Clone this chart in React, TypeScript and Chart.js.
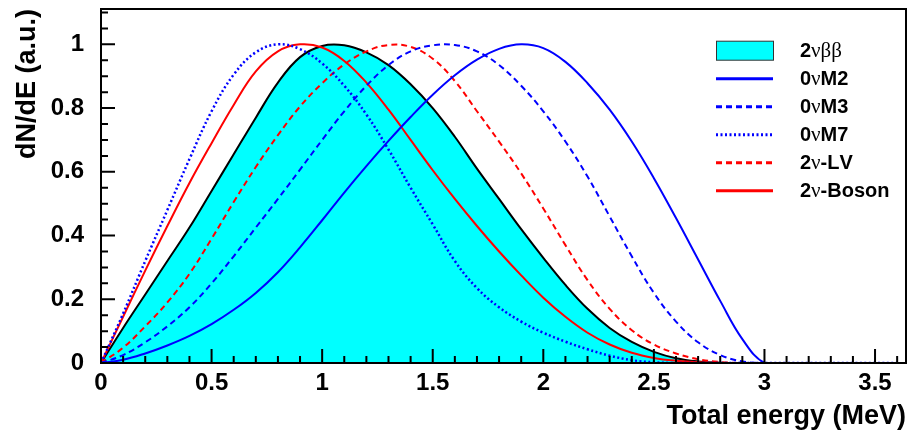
import React, { useEffect, useRef } from "react";
import { Chart, registerables } from "chart.js";

Chart.register(...registerables);

// Total energy (MeV)
const energies = [
  0, 0.1, 0.2, 0.3, 0.4, 0.5, 0.6, 0.7, 0.8, 0.9,
  1.0, 1.1, 1.2, 1.3, 1.4, 1.5, 1.6, 1.7, 1.8, 1.9,
  2.0, 2.1, 2.2, 2.3, 2.4, 2.5, 2.6, 2.7, 2.8, 2.9,
  3.0, 3.1, 3.2, 3.3, 3.4, 3.5, 3.6,
];

const spec2nbb = [
  0, 0.11, 0.215, 0.32, 0.425, 0.54, 0.655, 0.77, 0.88, 0.96,
  0.995, 0.997, 0.975, 0.935, 0.875, 0.80, 0.71, 0.61, 0.515, 0.42,
  0.33, 0.245, 0.17, 0.11, 0.066, 0.035, 0.015, 0.005, 0.001, 0,
  0, 0, 0, 0, 0, 0, 0,
];

const spec0nM2 = [
  0, 0.01, 0.03, 0.055, 0.085, 0.122, 0.167, 0.22, 0.285, 0.363,
  0.448, 0.535, 0.618, 0.697, 0.772, 0.842, 0.903, 0.952, 0.986, 1.0,
  0.988, 0.945, 0.878, 0.795, 0.695, 0.58, 0.455, 0.325, 0.195, 0.075,
  0, 0, 0, 0, 0, 0, 0,
];

const spec0nM3 = [
  0, 0.025, 0.065, 0.115, 0.175, 0.25, 0.335, 0.425, 0.515, 0.607,
  0.70, 0.79, 0.87, 0.935, 0.978, 0.997, 0.998, 0.978, 0.935, 0.87,
  0.79, 0.695, 0.585, 0.46, 0.335, 0.22, 0.13, 0.065, 0.025, 0.005,
  0, 0, 0, 0, 0, 0, 0,
];

const spec0nM7 = [
  0, 0.155, 0.32, 0.48, 0.64, 0.79, 0.905, 0.975, 1.0, 0.985,
  0.94, 0.87, 0.78, 0.67, 0.55, 0.435, 0.32, 0.235, 0.175, 0.13,
  0.095, 0.067, 0.043, 0.023, 0.009, 0.002, 0, 0, 0, 0,
  0, 0, 0, 0, 0, 0, 0,
];

const spec2nLV = [
  0, 0.048, 0.115, 0.19, 0.28, 0.39, 0.505, 0.615, 0.715, 0.805,
  0.878, 0.937, 0.978, 0.998, 0.992, 0.955, 0.885, 0.79, 0.695, 0.595,
  0.485, 0.37, 0.26, 0.17, 0.103, 0.058, 0.03, 0.012, 0.003, 0,
  0, 0, 0, 0, 0, 0, 0,
];

const spec2nBoson = [
  0, 0.145, 0.29, 0.43, 0.565, 0.69, 0.81, 0.915, 0.978, 1.0,
  0.99, 0.948, 0.88, 0.795, 0.70, 0.605, 0.515, 0.43, 0.35, 0.275,
  0.205, 0.145, 0.095, 0.058, 0.032, 0.016, 0.007, 0.002, 0, 0,
  0, 0, 0, 0, 0, 0, 0,
];

const seriesLabels = ["2νββ", "0νM2", "0νM3", "0νM7", "2ν-LV", "2ν-Boson"];
const seriesValues = [spec2nbb, spec0nM2, spec0nM3, spec0nM7, spec2nLV, spec2nBoson];
const seriesColors = ["#000000", "#0000ff", "#0000ff", "#0000ff", "#ff0000", "#ff0000"];
const seriesDash: number[][] = [[], [], [6, 4], [2, 2.5], [6, 4], []];
const seriesWidth = [2, 2, 2, 2.5, 2, 2];

const xAxisTitle = "Total energy (MeV)";
const yAxisTitle = "dN/dE (a.u.)";
const X_MAX = 3.64;
const Y_MAX = 1.111;
const X_MAJOR = 0.5;
const X_MINOR = 0.1;
const Y_MAJOR = 0.2;
const Y_MINOR = 0.05;

const SANS = '"Liberation Sans", Arial, sans-serif';

function drawMixed(ctx: CanvasRenderingContext2D, text: string, x: number, y: number) {
  let cx = x;
  for (const ch of text) {
    const greek = /[\u0370-\u03ff]/.test(ch);
    ctx.font = greek ? 'normal 21px "Liberation Serif", serif' : `bold 20px ${SANS}`;
    ctx.fillText(ch, cx, y);
    cx += ctx.measureText(ch).width;
  }
}

const rootFramePlugin = {
  id: "rootFrame",
  afterDatasetsDraw(chart: any) {
    const { ctx, chartArea: a, scales } = chart;
    const xs = scales.x;
    const ys = scales.y;
    ctx.save();
    ctx.strokeStyle = "#000";
    ctx.lineWidth = 2;
    ctx.setLineDash([]);
    ctx.strokeRect(a.left, a.top, a.right - a.left, a.bottom - a.top);
    ctx.beginPath();
    const perMajorX = Math.round(X_MAJOR / X_MINOR);
    for (let k = 0; k * X_MINOR <= xs.max + 1e-9; k++) {
      const v = k * X_MINOR;
      const px = xs.getPixelForValue(v);
      const len = k % perMajorX === 0 ? 14 : 7;
      ctx.moveTo(px, a.bottom);
      ctx.lineTo(px, a.bottom - len);
    }
    const perMajorY = Math.round(Y_MAJOR / Y_MINOR);
    for (let k = 0; k * Y_MINOR <= ys.max + 1e-9; k++) {
      const v = k * Y_MINOR;
      const py = ys.getPixelForValue(v);
      const len = k % perMajorY === 0 ? 14 : 7;
      ctx.moveTo(a.left, py);
      ctx.lineTo(a.left + len, py);
    }
    ctx.stroke();
    ctx.restore();
  },
  afterDraw(chart: any) {
    const { ctx, chartArea: a } = chart;
    const boxL = a.right - 190;
    const boxW = 57;
    const textX = boxL + 84;
    const row0 = a.top + 41.7;
    const rowH = 28;
    ctx.save();
    seriesLabels.forEach((label, i) => {
      const y = row0 + i * rowH;
      if (i === 0) {
        ctx.fillStyle = "#00ffff";
        ctx.fillRect(boxL, y - 9.5, boxW, 19);
        ctx.strokeStyle = "#333";
        ctx.lineWidth = 1;
        ctx.setLineDash([]);
        ctx.strokeRect(boxL + 0.5, y - 9.5, boxW, 19);
      } else {
        ctx.strokeStyle = seriesColors[i];
        ctx.lineWidth = 3;
        ctx.setLineDash(seriesDash[i]);
        ctx.beginPath();
        ctx.moveTo(boxL, y);
        ctx.lineTo(boxL + boxW, y);
        ctx.stroke();
      }
      ctx.setLineDash([]);
      ctx.fillStyle = "#000";
      ctx.textBaseline = "middle";
      ctx.textAlign = "left";
      drawMixed(ctx, label, textX, y + 1);
    });
    ctx.restore();
  },
};

export default function App() {
  const canvasRef = useRef<HTMLCanvasElement | null>(null);

  useEffect(() => {
    if (!canvasRef.current) return;
    const datasets = seriesLabels.map((label, i) => ({
      label,
      data: energies.map((e, j) => ({ x: e, y: seriesValues[i][j] })),
      borderColor: seriesColors[i],
      borderWidth: seriesWidth[i],
      borderDash: seriesDash[i],
      backgroundColor: i === 0 ? "#00ffff" : "transparent",
      fill: i === 0 ? "origin" : false,
      pointRadius: 0,
      tension: 0.4,
      order: i === 0 ? 10 : 0,
    }));

    const tickFont = { family: SANS, size: 24, weight: "bold" as const };
    const titleFont = { family: SANS, size: 27, weight: "bold" as const, lineHeight: 1 };

    const chart = new Chart(canvasRef.current, {
      type: "line",
      data: { datasets },
      options: {
        animation: false,
        responsive: false,
        events: [],
        layout: { padding: { left: 0, right: 3, top: 9, bottom: 0 } },
        plugins: {
          legend: { display: false },
          tooltip: { enabled: false },
        },
        scales: {
          x: {
            type: "linear",
            min: 0,
            max: X_MAX,
            grid: { display: false, drawTicks: false },
            border: { display: false },
            ticks: {
              stepSize: X_MAJOR,
              includeBounds: false,
              autoSkip: false,
              maxRotation: 0,
              padding: 6,
              color: "#000",
              font: tickFont,
              callback: (v: any) => String(Math.round(Number(v) * 10) / 10),
            },
            title: {
              display: true,
              text: xAxisTitle,
              align: "end",
              color: "#000",
              font: titleFont,
              padding: { top: 0, bottom: 7 },
            },
            afterFit: (s: any) => {
              s.height = 74;
              s.paddingLeft = 0;
              s.paddingRight = 0;
            },
          },
          y: {
            type: "linear",
            min: 0,
            max: Y_MAX,
            grid: { display: false, drawTicks: false },
            border: { display: false },
            ticks: {
              stepSize: Y_MAJOR,
              includeBounds: false,
              autoSkip: false,
              padding: 17,
              color: "#000",
              font: tickFont,
              callback: (v: any) => String(Math.round(Number(v) * 10) / 10),
            },
            title: {
              display: true,
              text: yAxisTitle,
              align: "end",
              color: "#000",
              font: titleFont,
              padding: { top: 14, bottom: 0 },
            },
            afterFit: (s: any) => {
              s.width = 101;
              s.paddingTop = 0;
              s.paddingBottom = 0;
            },
          },
        },
      },
      plugins: [rootFramePlugin],
    });
    return () => chart.destroy();
  }, []);

  return (
    <div style={{ position: "fixed", left: 0, top: 0, width: 909, height: 437, background: "#fff" }}>
      <canvas ref={canvasRef} width={909} height={437} />
    </div>
  );
}
